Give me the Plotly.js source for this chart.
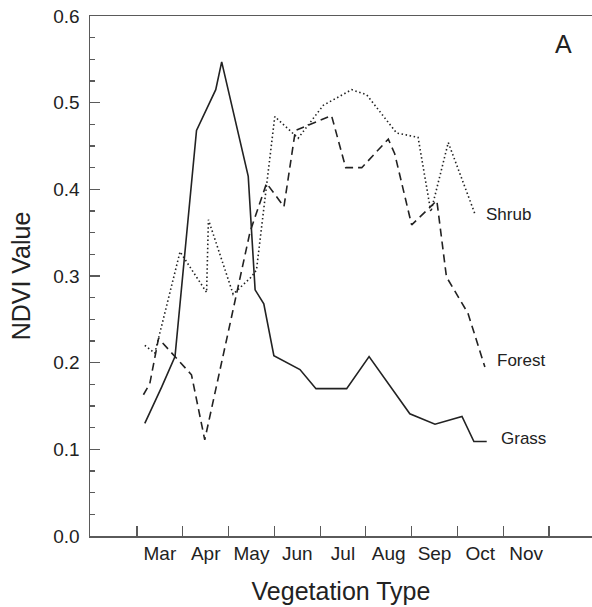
<!DOCTYPE html>
<html>
<head>
<meta charset="utf-8">
<script src="https://cdn.plot.ly/plotly-3.0.1.min.js"></script>
<style>html,body{margin:0;padding:0;background:#fff;}#chart{width:592px;height:607px;}</style>
</head>
<body>
<div id="chart"></div>
<script>
// Month positions: 3 = start of March, 4 = start of April, ...
const monthLabels = ['Mar','Apr','May','Jun','Jul','Aug','Sep','Oct','Nov'];
const monthLabelPos = [3.5,4.5,5.5,6.5,7.5,8.5,9.5,10.5,11.5];
const monthBoundaries = [3,4,5,6,7,8,9,10,11,12];

const grassMonth = [3.17,3.54,3.83,4.30,4.72,4.85,5.43,5.58,5.77,5.99,6.56,6.91,7.58,8.07,8.96,9.51,10.10,10.36,10.64];
const grassNDVI  = [0.130,0.172,0.207,0.468,0.515,0.547,0.415,0.284,0.268,0.208,0.192,0.170,0.170,0.207,0.141,0.129,0.138,0.109,0.109];

const forestMonth = [3.14,3.28,3.47,4.19,4.48,5.47,5.83,6.21,6.46,7.25,7.56,7.91,8.49,8.63,9.00,9.55,9.76,10.23,10.60];
const forestNDVI  = [0.163,0.176,0.228,0.186,0.111,0.351,0.407,0.380,0.468,0.485,0.425,0.425,0.458,0.441,0.359,0.387,0.299,0.257,0.195];

const shrubMonth = [3.17,3.39,3.94,4.52,4.56,5.10,5.50,5.61,6.01,6.52,7.07,7.69,8.02,8.67,9.14,9.42,9.80,10.38];
const shrubNDVI  = [0.220,0.211,0.328,0.281,0.365,0.279,0.299,0.307,0.484,0.459,0.497,0.515,0.509,0.465,0.460,0.374,0.454,0.372];

const seriesNames = ['Shrub','Forest','Grass'];
const labelPos = {Shrub:[10.62,0.3715], Forest:[10.86,0.203], Grass:[10.95,0.1127]};

const FONT = 'Liberation Sans, Arial, Helvetica, sans-serif';
const INK = '#222';
const AXIS = '#5a5a5a';

const traces = [
  {x: shrubMonth, y: shrubNDVI, mode:'lines', name:'Shrub',
   line:{color:INK, width:1.6, dash:'1.5px,2.6px'}},
  {x: forestMonth, y: forestNDVI, mode:'lines', name:'Forest',
   line:{color:INK, width:1.6, dash:'8px,5px'}},
  {x: grassMonth, y: grassNDVI, mode:'lines', name:'Grass',
   line:{color:INK, width:1.6}}
];

const annotations = seriesNames.map(n => ({
  x: labelPos[n][0], y: labelPos[n][1], xref:'x', yref:'y',
  text: n, showarrow:false, xanchor:'left', yanchor:'middle', xshift:-2,
  font:{family:FONT, size:17, color:INK}
}));
annotations.push({x:12.31, y:0.5677, xref:'x', yref:'y', text:'A', showarrow:false,
  xanchor:'center', yanchor:'middle', font:{family:FONT, size:25, color:INK}});

const layout = {
  width:592, height:607,
  margin:{l:90, r:0, t:16, b:71},
  paper_bgcolor:'#fff', plot_bgcolor:'#fff',
  showlegend:false,
  font:{family:FONT, color:INK},
  xaxis:{
    range:[1.973,12.94], showgrid:false, zeroline:false,
    showline:true, linecolor:AXIS, linewidth:1.5, mirror:true,
    tickmode:'array', tickvals:monthLabelPos, ticktext:monthLabels,
    ticks:'', tickfont:{family:FONT, size:19, color:INK},
    minor:{tickmode:'array', tickvals:monthBoundaries, ticks:'inside', ticklen:10, tickwidth:1.2, tickcolor:AXIS, showgrid:false},
    title:{text:'Vegetation Type', font:{family:FONT, size:25, color:INK}, standoff:19}
  },
  yaxis:{
    range:[0,0.6], showgrid:false, zeroline:false,
    showline:true, linecolor:AXIS, linewidth:1.5,
    tickmode:'linear', tick0:0, dtick:0.1, tickformat:'.1f',
    ticks:'inside', ticklen:10, tickwidth:1.2, tickcolor:AXIS,
    ticklabelstandoff:5,
    tickfont:{family:FONT, size:19, color:INK},
    minor:{dtick:0.025, ticks:'inside', ticklen:5, tickwidth:1.2, tickcolor:AXIS, showgrid:false},
    title:{text:'NDVI Value', font:{family:FONT, size:25, color:INK}, standoff:15}
  },
  annotations: annotations
};

Plotly.newPlot('chart', traces, layout, {displayModeBar:false, staticPlot:true});
</script>
</body>
</html>
